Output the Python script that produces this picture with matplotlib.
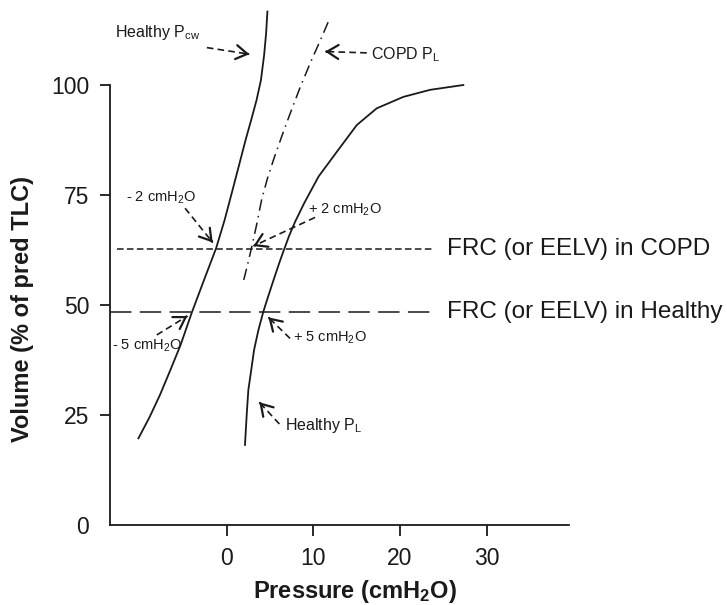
import matplotlib
matplotlib.use("Agg")
import matplotlib.pyplot as plt

plt.rcParams['font.family'] = ['Liberation Sans', 'DejaVu Sans']
plt.rcParams['mathtext.fontset'] = 'custom'
plt.rcParams['mathtext.rm'] = 'Liberation Sans'
plt.rcParams['mathtext.it'] = 'Liberation Sans:italic'
plt.rcParams['mathtext.bf'] = 'Liberation Sans:bold'

INK = '#1a1a1a'

# pressure (cmH2O) / volume (% of pred TLC)
pcw_p = [-10.17, -8.89, -7.70, -6.49, -5.31, -4.01, -2.60, -1.21, -0.23, 0.63, 1.44,
         2.19, 2.83, 3.46, 3.96, 4.33, 4.56, 4.71]
pcw_v = [19.7, 24.5, 29.5, 35.2, 40.9, 48.3, 55.7, 62.9, 69.3, 75.7, 81.8,
         87.5, 92.0, 96.6, 101.1, 106.8, 111.8, 116.7]

pl_p = [2.12, 2.33, 2.51, 2.79, 3.17, 3.67, 4.24, 4.79, 5.42, 6.12, 6.61, 7.21, 7.90,
        8.94, 10.61, 12.86, 15.02, 17.32, 20.39, 23.47, 27.31]
pl_v = [18.2, 25.4, 30.7, 34.5, 39.8, 44.3, 48.5, 51.9, 55.7, 59.8, 62.5, 65.7, 68.9,
        73.1, 79.2, 85.2, 90.9, 94.7, 97.3, 98.9, 100.0]

copd_p = [1.98, 2.41, 2.88, 3.46, 4.04, 4.73, 5.48, 6.34, 7.27, 8.45, 9.65, 10.82, 11.74]
copd_v = [55.7, 59.1, 63.0, 68.2, 73.9, 78.9, 83.4, 88.2, 93.2, 99.3, 105.0, 110.2, 114.4]

frc_copd = 62.7
frc_healthy = 48.3

x_ticks = [0, 10, 20, 30]
y_ticks = [0, 25, 50, 75, 100]


def dashed_arrow(ax, x0, y0, x1, y1):
    ax.plot([x0, x1], [y0, y1], ls=(0, (4, 2.5)), lw=1.2, color=INK)
    ax.annotate('', xy=(x1, y1), xytext=(x1 - 0.03 * (x1 - x0), y1 - 0.03 * (y1 - y0)),
                arrowprops=dict(arrowstyle='->,head_length=0.45,head_width=0.28',
                                lw=1.6, color=INK, mutation_scale=18,
                                shrinkA=0, shrinkB=0))


fig = plt.figure(figsize=(7.27, 6.05), dpi=100)
ax = fig.add_axes([110 / 727, 80 / 605, 459 / 727, 517 / 605])
ax.set_xlim(-13.45, 39.5)
ax.set_ylim(0, 117.5)

ax.plot(pcw_p, pcw_v, color=INK, lw=1.3, solid_joinstyle='round')
ax.plot(pl_p, pl_v, color=INK, lw=1.3, solid_joinstyle='round')
ax.plot(copd_p, copd_v, color=INK, lw=1.1, ls=(0, (7.5, 3.5, 1, 3.5)))

ax.plot([-12.7, 23.9], [frc_copd, frc_copd], color=INK, lw=1.1, ls=(0, (4.3, 2.2)))
ax.plot([-13.4, 23.5], [frc_healthy, frc_healthy], color=INK, lw=1.1, ls=(0, (14, 5.5)))

ax.text(25.4, frc_copd, 'FRC (or EELV) in COPD', fontsize=17.5, color=INK, va='center')
ax.text(25.4, frc_healthy, 'FRC (or EELV) in Healthy', fontsize=17.5, color=INK,
        va='center')

fs_name = 11.5
fs_val = 10.5
ax.text(-12.9, 110.8, r'Healthy P$_{\mathrm{cw}}$', fontsize=fs_name, color=INK)
dashed_arrow(ax, -2.28, 108.5, 2.63, 107.0)
ax.text(16.65, 105.8, r'COPD P$_{\mathrm{L}}$', fontsize=fs_name, color=INK)
dashed_arrow(ax, 16.17, 107.3, 11.36, 107.6)
ax.text(-11.6, 73.6, r'- 2 cmH$_{\mathrm{2}}$O', fontsize=fs_val, color=INK)
dashed_arrow(ax, -4.79, 72.0, -1.6, 64.2)
ax.text(9.43, 70.7, r'+ 2 cmH$_{\mathrm{2}}$O', fontsize=fs_val, color=INK)
dashed_arrow(ax, 10.2, 69.9, 3.09, 63.4)
ax.text(-13.24, 39.8, r'- 5 cmH$_{\mathrm{2}}$O', fontsize=fs_val, color=INK)
dashed_arrow(ax, -8.05, 43.2, -4.52, 47.5)
ax.text(7.7, 41.7, r'+ 5 cmH$_{\mathrm{2}}$O', fontsize=fs_val, color=INK)
dashed_arrow(ax, 7.32, 42.4, 4.82, 47.2)
ax.text(6.75, 21.7, r'Healthy P$_{\mathrm{L}}$', fontsize=fs_name, color=INK)
dashed_arrow(ax, 6.09, 22.95, 3.78, 27.9)

for s in ['top', 'right']:
    ax.spines[s].set_visible(False)
for s in ['left', 'bottom']:
    ax.spines[s].set_linewidth(1.3)
    ax.spines[s].set_color(INK)
ax.spines['left'].set_bounds(0, 100)

ax.set_xticks(x_ticks)
ax.set_yticks(y_ticks)
ax.tick_params(axis='both', labelsize=16.5, colors=INK, width=1.3)
ax.tick_params(axis='x', length=8, pad=8)
ax.tick_params(axis='y', length=7, pad=8)
ax.yaxis.get_major_ticks()[0].tick1line.set_visible(False)

fig.text(355 / 727, 7 / 605, r'Pressure (cmH$_{\mathbf{2}}$O)', fontsize=17,
         fontweight='bold', color=INK, ha='center', va='baseline')
fig.text(23 / 727, 296 / 605, 'Volume (% of pred TLC)', fontsize=17,
         fontweight='bold', color=INK, ha='center', va='center', rotation=90)

fig.savefig('out.png', dpi=100)
